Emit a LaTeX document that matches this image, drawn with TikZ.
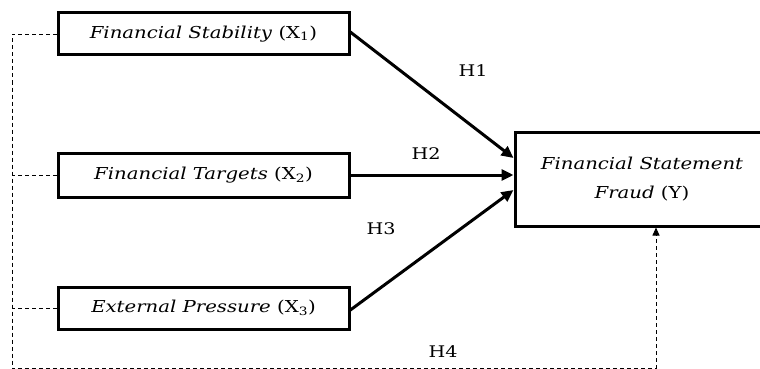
\documentclass[tikz,border=0pt]{standalone}
\usepackage{fontspec}
\setmainfont[FakeStretch=1.2]{DejaVu Serif}
\usetikzlibrary{arrows.meta}
\begin{document}
\begin{tikzpicture}[x=1pt,y=-1pt,
  varbox/.style={draw=black,line width=3pt,inner sep=0pt,font=\fontsize{16.4}{19}\selectfont},
  hyp/.style={line width=3pt,-{Triangle[length=12pt,width=11pt]}},
  link/.style={line width=0.9pt,dash pattern=on 4pt off 3pt},
  hlabel/.style={font=\fontsize{16}{19}\selectfont}]
\useasboundingbox (0,0) rectangle (760,369);
\node[varbox,minimum width=291pt,minimum height=42pt] (x1) at (203.5,34) {\textit{Financial Stability} (X\textsubscript{1})};
\node[varbox,minimum width=291pt,minimum height=44pt] (x2) at (203.5,175) {\textit{Financial Targets} (X\textsubscript{2})};
\node[varbox,minimum width=291pt,minimum height=42pt] (x3) at (203.5,308) {\textit{External Pressure} (X\textsubscript{3})};
\node[varbox,minimum width=254pt,minimum height=94pt,align=center] (y) at (642,179) {\textit{Financial Statement}\\[10pt]\textit{Fraud} (Y)};
\coordinate (a1) at (349,31);
\coordinate (a3) at (349,311);
\draw[hyp] (a1) -- (y.west |- 0,158);
\draw[hyp] (x2.east) -- (y.west |- x2.east);
\draw[hyp] (a3) -- (y.west |- 0,190);
\node[hlabel] (h1) at (473,71) {H1};
\node[hlabel] (h2) at (426,154) {H2};
\node[hlabel] (h3) at (381,229) {H3};
\node[hlabel] (h4) at (443,352) {H4};
\coordinate (c1) at (12,34);
\coordinate (c2) at (12,175);
\coordinate (c3) at (12,308);
\coordinate (cb) at (12,368.5);
\coordinate (cr) at (656,368.5);
\draw[link] (x1.west) -- (c1) -- (cb) -- (cr);
\draw[link] (x2.west) -- (c2);
\draw[link] (x3.west) -- (c3);
\draw[link,-{Triangle[length=8pt,width=7pt]}] (cr) -- (cr |- y.south);
\end{tikzpicture}
\end{document}
